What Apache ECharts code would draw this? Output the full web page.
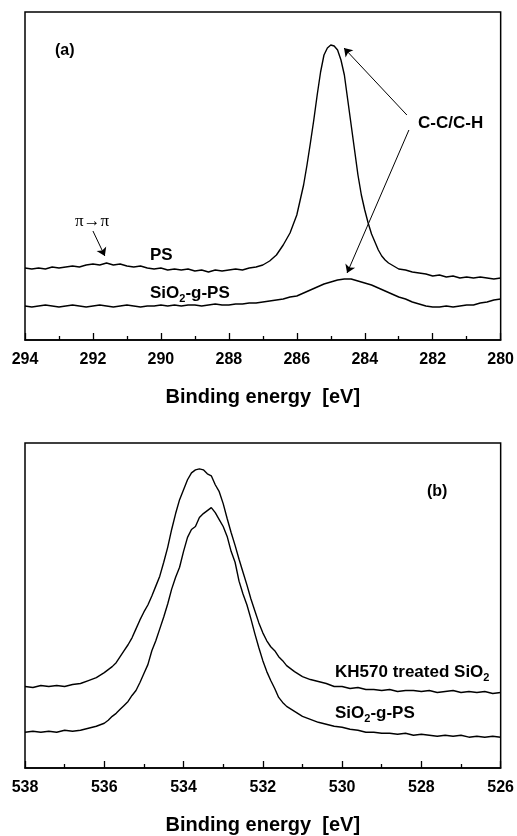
<!DOCTYPE html>
<html>
<head>
<meta charset="utf-8">
<script src="https://cdn.jsdelivr.net/npm/echarts@6/dist/echarts.min.js"></script>
<style>
  html, body { margin: 0; padding: 0; background: #fff; }
  #main { width: 517px; height: 836px; }
</style>
</head>
<body>
<div id="main"></div>
<script>
// (a) C1s region, arbitrary intensity units
var psEnergy = [294.0,293.8,293.6,293.4,293.2,293.0,292.8,292.6,292.4,292.2,292.0,291.8,291.6,291.4,291.2,291.0,290.8,290.6,290.4,290.2,290.0,289.8,289.6,289.4,289.2,289.0,288.8,288.6,288.4,288.2,288.0,287.8,287.6,287.4,287.2,287.0,286.8,286.6,286.4,286.2,286.0,285.9,285.8,285.7,285.6,285.5,285.4,285.3,285.2,285.1,285.0,284.95,284.9,284.85,284.8,284.7,284.6,284.5,284.4,284.3,284.2,284.1,284.0,283.9,283.8,283.7,283.6,283.5,283.4,283.3,283.2,283.0,282.8,282.6,282.4,282.2,282.0,281.8,281.6,281.4,281.2,281.0,280.8,280.6,280.4,280.2,280.0];
var psIntensity = [72,71,72,71,73,72,73,74,73,75,76,75,77,75,76,74,73,74,72,71,72,70,71,70,71,69,70,68,70,69,70,71,70,72,73,75,79,85,95,107,125,140,155,175,197,220,245,268,285,292,295,296,294,295,290,280,265,240,215,190,165,145,130,117,106,98,90,84,80,77,75,71,70,68,67,66,64,65,63,64,62,63,62,63,62,61,62];

var gpsEnergyA = [294.0,293.8,293.6,293.4,293.2,293.0,292.8,292.6,292.4,292.2,292.0,291.8,291.6,291.4,291.2,291.0,290.8,290.6,290.4,290.2,290.0,289.8,289.6,289.4,289.2,289.0,288.8,288.6,288.4,288.2,288.0,287.8,287.6,287.4,287.2,287.0,286.8,286.6,286.4,286.2,286.0,285.8,285.6,285.4,285.2,285.0,284.8,284.6,284.4,284.2,284.0,283.8,283.6,283.4,283.2,283.0,282.8,282.6,282.4,282.2,282.0,281.8,281.6,281.4,281.2,281.0,280.8,280.6,280.4,280.2,280.0];
var gpsIntensityA = [34,33,34,35,34,33,34,35,34,33,34,35,34,33,34,35,34,33,34,34,35,34,35,34,35,35,34,35,36,35,35,36,36,37,37,38,39,40,41,43,44,47,50,53,56,58,60,61,61,59,57,55,52,49,46,43,41,38,36,34,33,33,34,33,34,35,35,37,38,40,41];

// (b) O1s region
var khEnergy = [538.0,537.8,537.6,537.4,537.2,537.0,536.8,536.6,536.4,536.2,536.0,535.9,535.8,535.7,535.6,535.5,535.4,535.3,535.2,535.1,535.0,534.9,534.8,534.7,534.6,534.5,534.4,534.3,534.2,534.1,534.0,533.9,533.8,533.7,533.6,533.5,533.45,533.4,533.35,533.3,533.2,533.1,533.0,532.9,532.8,532.7,532.6,532.5,532.4,532.3,532.2,532.1,532.0,531.9,531.8,531.7,531.6,531.5,531.4,531.3,531.2,531.0,530.8,530.6,530.4,530.2,530.0,529.8,529.6,529.4,529.2,529.0,528.8,528.6,528.4,528.2,528.0,527.8,527.6,527.4,527.2,527.0,526.8,526.6,526.4,526.2,526.0];
var khIntensity = [82,81,83,82,83,82,84,85,88,91,96,99,102,106,112,118,124,131,140,149,157,164,173,183,193,207,222,240,256,270,280,290,297,300,301,300,298,296,298,294,285,278,266,251,237,224,210,197,184,170,158,146,136,128,122,118,112,108,103,100,97,92,89,87,85,82,82,80,81,79,79,78,79,77,78,78,77,78,76,77,78,76,77,76,77,75,76];

var gpsEnergyB = [538.0,537.8,537.6,537.4,537.2,537.0,536.8,536.6,536.4,536.2,536.0,535.9,535.8,535.7,535.6,535.5,535.4,535.3,535.2,535.1,535.0,534.9,534.8,534.7,534.6,534.5,534.4,534.3,534.2,534.1,534.0,533.9,533.8,533.7,533.6,533.5,533.4,533.3,533.25,533.2,533.1,533.0,532.9,532.8,532.7,532.6,532.5,532.4,532.3,532.2,532.1,532.0,531.9,531.8,531.7,531.6,531.5,531.4,531.2,531.0,530.8,530.6,530.4,530.2,530.0,529.8,529.6,529.4,529.2,529.0,528.8,528.6,528.4,528.2,528.0,527.8,527.6,527.4,527.2,527.0,526.8,526.6,526.4,526.2,526.0];
var gpsIntensityB = [36,37,36,37,36,38,37,38,40,42,45,48,52,55,59,63,67,73,78,86,95,104,118,128,140,152,165,180,192,202,218,232,240,243,252,256,259,262,260,257,250,243,233,218,207,188,175,164,150,135,121,108,97,88,80,71,66,62,57,52,49,46,44,42,41,39,38,36,36,35,35,34,35,33,34,33,32,33,32,33,31,32,31,32,31];

var xTicksA = {min: 280, max: 294, interval: 2};
var xTicksB = {min: 526, max: 538, interval: 2};

function pairs(xs, ys) {
    return xs.map(function(x, i) { return [x, ys[i]] })
}

var font = "'Liberation Sans', Arial, sans-serif";
var black = "#000";

function xAxisFor(idx, ticks, gap) {
    return {
        gridIndex: idx, type: "value", inverse: true,
        min: ticks.min, max: ticks.max, interval: ticks.interval,
        name: "Binding energy  [eV]", nameLocation: "middle", nameGap: gap,
        nameTextStyle: {fontFamily: font, fontWeight: "bold", fontSize: 20, color: black},
        axisLine: {show: true, lineStyle: {color: black, width: 1.5}},
        axisTick: {show: true, inside: true, length: 7, lineStyle: {color: black, width: 1.3}},
        minorTick: {show: true, splitNumber: 2, length: 4, lineStyle: {color: black, width: 1.3}},
        axisLabel: {fontFamily: font, fontWeight: "bold", fontSize: 16, color: black, margin: 12, showMinLabel: true, showMaxLabel: true},
        splitLine: {show: false}, minorSplitLine: {show: false}
    }
}

function yAxisFor(idx, max) {
    return {gridIndex: idx, type: "value", min: 0, max: max, show: false, splitLine: {show: false}}
}

var lineBase = {type: "line", showSymbol: false, symbol: "none", smooth: false, animation: false,
    lineStyle: {color: black, width: 1.4}, itemStyle: {color: black}};

var arrowStyle = {symbol: ["none", "arrow"], symbolSize: 8, silent: true, animation: false,
    lineStyle: {color: black, width: 1, type: "solid"}, label: {show: false}};

var sub = {s: {fontSize: 11, fontWeight: "bold", fontFamily: font, verticalAlign: "bottom", lineHeight: 10}};

var chart = echarts.init(document.getElementById("main"), null, {renderer: "canvas"});
chart.setOption({
    backgroundColor: "#fff",
    animation: false,
    grid: [
        {left: 25, right: 15, top: 12, height: 328, show: true, borderColor: black, borderWidth: 1.5, backgroundColor: "transparent"},
        {left: 25, right: 15, top: 443, height: 327, show: true, borderColor: black, borderWidth: 1.5, backgroundColor: "transparent"}
    ],
    xAxis: [xAxisFor(0, xTicksA, 47), xAxisFor(1, xTicksB, 47)],
    yAxis: [yAxisFor(0, 328), yAxisFor(1, 327)],
    series: [
        Object.assign({}, lineBase, {name: "PS", xAxisIndex: 0, yAxisIndex: 0, data: pairs(psEnergy, psIntensity),
            markLine: Object.assign({}, arrowStyle, {data: [
                [{coord: [282.76, 225]}, {coord: [284.61, 292]}],
                [{coord: [282.70, 210]}, {coord: [284.52, 67]}],
                [{coord: [292.0, 109]}, {coord: [291.65, 84]}]
            ]})}),
        Object.assign({}, lineBase, {name: "SiO2-g-PS (a)", xAxisIndex: 0, yAxisIndex: 0, data: pairs(gpsEnergyA, gpsIntensityA)}),
        Object.assign({}, lineBase, {name: "KH570 treated SiO2", xAxisIndex: 1, yAxisIndex: 1, data: pairs(khEnergy, khIntensity)}),
        Object.assign({}, lineBase, {name: "SiO2-g-PS (b)", xAxisIndex: 1, yAxisIndex: 1, data: pairs(gpsEnergyB, gpsIntensityB)})
    ],
    graphic: [
        {type: "text", left: 55, top: 43, style: {text: "(a)", font: "bold 16px " + font, fill: black}},
        {type: "text", left: 418, top: 115, style: {text: "C-C/C-H", font: "bold 17px " + font, fill: black}},
        {type: "text", left: 75, top: 213, style: {text: "π→π", font: "17px 'Liberation Serif', serif", fill: black}},
        {type: "text", left: 150, top: 247, style: {text: "PS", font: "bold 17px " + font, fill: black}},
        {type: "text", left: 150, top: 282, style: {text: "SiO{s|2}-g-PS", font: "bold 17px " + font, fill: black, rich: sub, lineHeight: 22}},
        {type: "text", left: 427, top: 484, style: {text: "(b)", font: "bold 16px " + font, fill: black}},
        {type: "text", left: 335, top: 661, style: {text: "KH570 treated SiO{s|2}", font: "bold 17px " + font, fill: black, rich: sub, lineHeight: 22}},
        {type: "text", left: 335, top: 702, style: {text: "SiO{s|2}-g-PS", font: "bold 17px " + font, fill: black, rich: sub, lineHeight: 22}}
    ]
});
</script>
</body>
</html>
